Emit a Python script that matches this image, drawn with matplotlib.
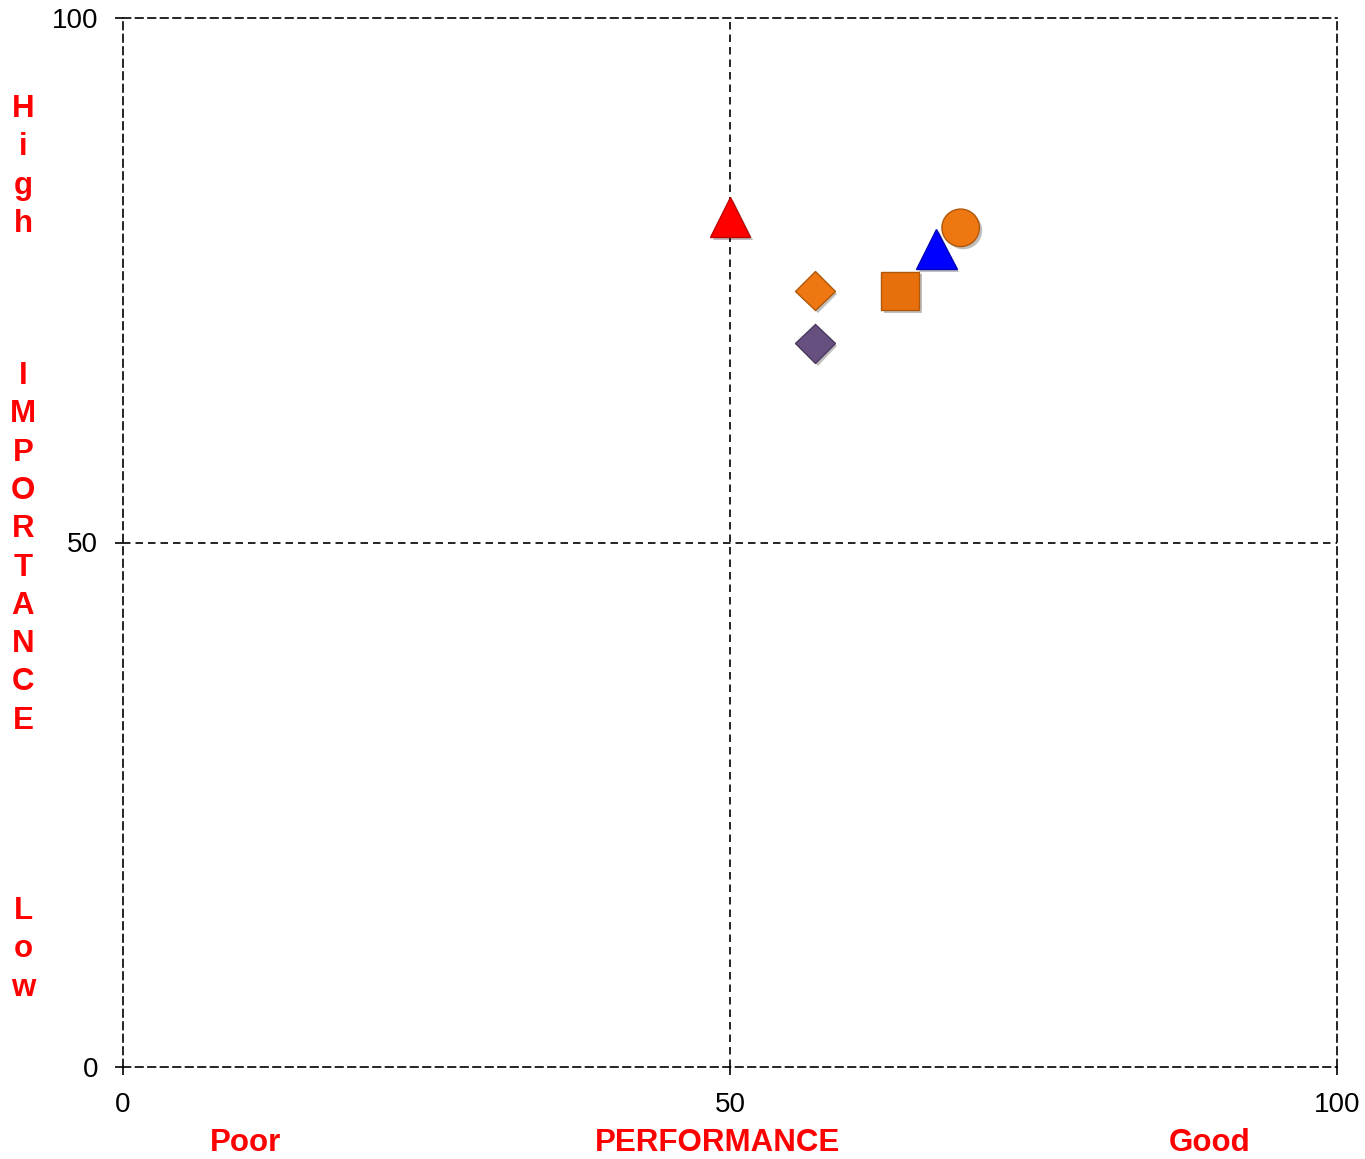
import matplotlib
matplotlib.use("Agg")
import matplotlib.pyplot as plt
import matplotlib.patheffects as pe

# performance (x) / importance (y) of each item
perf = [50, 69, 67, 64, 57, 57]
imp = [81, 80, 78, 74, 74, 69]
markers = ['^', 'o', '^', 's', 'D', 'D']
colors = ['#ff0000', '#ee7712', '#0000ff', '#e8700c', '#ee7712', '#66507f']
edges = ['#c00000', '#b0580a', '#0000b8', '#b0580a', '#b0580a', '#4a3a5e']
sizes = [29, 27, 29, 27.5, 20, 20]

ticks = [0, 50, 100]
x_labels = ["Poor", "PERFORMANCE", "Good"]
x_label_pos = [245, 717.5, 1210]
y_words = ["High", "IMPORTANCE", "Low"]
y_word_top = [117, 384, 919]   # baseline of first letter (px from top)

W, H = 1365, 1159
fig = plt.figure(figsize=(W / 100, H / 100), dpi=100)
ax = fig.add_axes([123 / W, 1 - 1067 / H, (1337 - 123) / W, (1067 - 18) / H])

ax.set_xlim(0, 100)
ax.set_ylim(0, 100)
ax.set_xticks(ticks)
ax.set_yticks(ticks)
ax.tick_params(direction='out', length=6, width=1.2, labelsize=20, pad=12)
for lab in ax.get_xticklabels() + ax.get_yticklabels():
    lab.set_fontfamily('Liberation Sans')

dash = (0, (4.5, 3))
for s in ax.spines.values():
    s.set_linestyle(dash)
    s.set_linewidth(1.2)
ax.axhline(50, color='black', lw=1.2, ls=dash)
ax.axvline(50, color='black', lw=1.2, ls=dash)

shadow = [pe.SimplePatchShadow(offset=(2, -2), shadow_rgbFace='k', alpha=0.25), pe.Normal()]
for i in range(len(perf)):
    ax.plot(perf[i], imp[i], marker=markers[i], ms=sizes[i], color=colors[i],
            mec=edges[i], mew=1.0, ls='none', zorder=5, path_effects=shadow,
            clip_on=False)

font = dict(family='Liberation Sans', fontweight='bold', color='#ff0000', fontsize=22.5)
for lab, xp in zip(x_labels, x_label_pos):
    fig.text(xp / W, 1 / H, lab, ha='center', va='bottom', **font)

step = 38.3
for word, y0 in zip(y_words, y_word_top):
    for k, ch in enumerate(word):
        fig.text(23 / W, 1 - (y0 + k * step) / H, ch, ha='center', va='baseline', **font)

fig.savefig('out.png', dpi=100)
